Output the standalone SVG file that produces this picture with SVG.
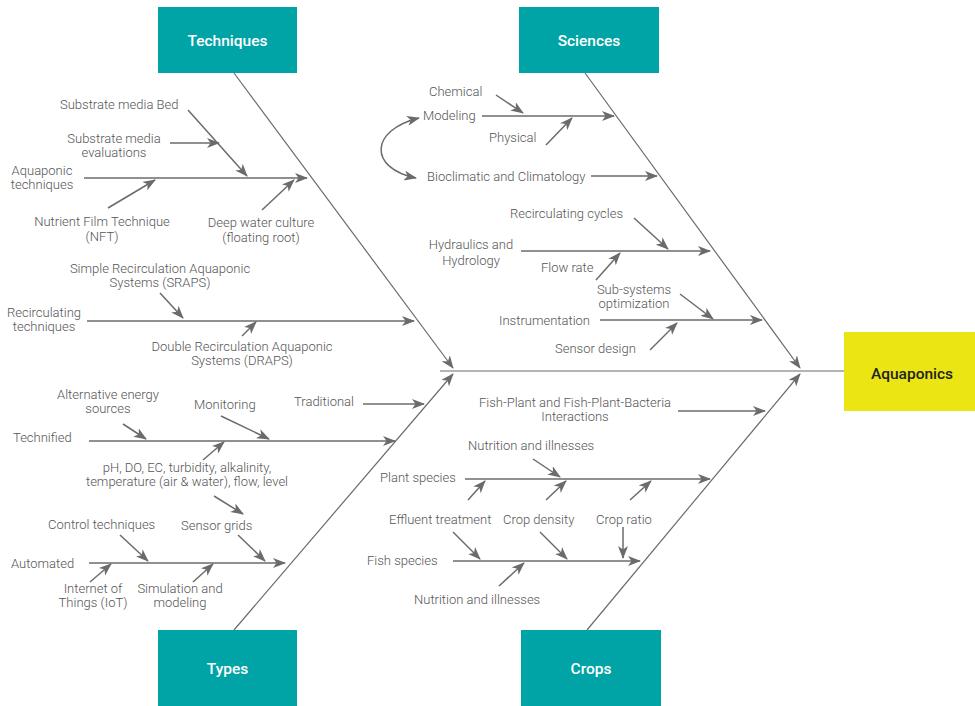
<svg xmlns="http://www.w3.org/2000/svg" width="975" height="706" viewBox="0 0 975 706">
<defs>
<marker id="ah" markerUnits="userSpaceOnUse" markerWidth="14" markerHeight="10" refX="12" refY="5" orient="auto">
<path d="M0,0 L13,5 L0,10 L3.5,5 z" fill="#6b6b6b"/>
</marker>
<marker id="ahs" markerUnits="userSpaceOnUse" markerWidth="14" markerHeight="10" refX="12" refY="5" orient="auto-start-reverse">
<path d="M0,0 L13,5 L0,10 L3.5,5 z" fill="#6b6b6b"/>
</marker>
</defs>
<style>
.t{font-family:Roboto,"Liberation Sans",sans-serif;font-size:13px;font-weight:300;fill:#555}
.m{text-anchor:middle}
.bt{font-family:Roboto,"Liberation Sans",sans-serif;font-size:15.5px;font-weight:500;fill:#fff;text-anchor:middle}
.ln{stroke:#6b6b6b;stroke-width:1.5;fill:none}
.ar{stroke:#6b6b6b;stroke-width:1.5;fill:none;marker-end:url(#ah)}
.dg{stroke:#6b6b6b;stroke-width:1.2;fill:none}
.box{fill:#00a3a6}
</style>
<rect width="975" height="706" fill="#fff"/>

<g id="connectors">
<line class="dg" x1="440" y1="371" x2="844" y2="371"/>
<line class="dg" x1="234" y1="73" x2="453" y2="368" marker-end="url(#ah)"/>
<line class="dg" x1="585" y1="73" x2="800" y2="368" marker-end="url(#ah)"/>
<line class="dg" x1="234" y1="630" x2="453" y2="374" marker-end="url(#ah)"/>
<line class="dg" x1="587" y1="630" x2="800" y2="374" marker-end="url(#ah)"/>

<line class="ar" x1="84" y1="178" x2="307" y2="178"/>
<line class="ar" x1="188" y1="110" x2="247" y2="176"/>
<line class="ar" x1="170" y1="143" x2="219" y2="143"/>
<line class="ar" x1="108" y1="208" x2="155" y2="180"/>
<line class="ar" x1="262" y1="210" x2="294" y2="180"/>
<line class="ar" x1="87" y1="321" x2="414" y2="321"/>
<line class="ar" x1="160" y1="293" x2="183" y2="318"/>
<line class="ar" x1="242" y1="336" x2="256" y2="322"/>

<line class="ar" x1="482" y1="116" x2="614" y2="116"/>
<line class="ar" x1="496" y1="95" x2="523" y2="113"/>
<line class="ar" x1="546" y1="145" x2="572" y2="118"/>
<line class="ar" x1="591" y1="176" x2="657" y2="176"/>
<path class="ln" d="M419,118 C370,130 368,168 416,178" marker-start="url(#ahs)" marker-end="url(#ah)"/>
<line class="ar" x1="521" y1="251" x2="710" y2="251"/>
<line class="ar" x1="634" y1="218" x2="668" y2="249"/>
<line class="ar" x1="596" y1="280" x2="620" y2="253"/>
<line class="ar" x1="600" y1="320" x2="762" y2="320"/>
<line class="ar" x1="680" y1="294" x2="713" y2="319"/>
<line class="ar" x1="650" y1="350" x2="677" y2="323"/>

<line class="ar" x1="89" y1="441" x2="395" y2="441"/>
<line class="ar" x1="123" y1="424" x2="146" y2="439"/>
<line class="ar" x1="221" y1="416" x2="269" y2="439"/>
<line class="ar" x1="203" y1="460" x2="224" y2="442"/>
<line class="ar" x1="214" y1="496" x2="243" y2="514"/>
<line class="ar" x1="363" y1="404" x2="424" y2="404"/>
<line class="ar" x1="89" y1="563" x2="285" y2="563"/>
<line class="ar" x1="120" y1="535" x2="148" y2="561"/>
<line class="ar" x1="238" y1="535" x2="265" y2="561"/>
<line class="ar" x1="90" y1="582" x2="111" y2="564"/>
<line class="ar" x1="193" y1="582" x2="213" y2="564"/>

<line class="ar" x1="678" y1="411" x2="765" y2="411"/>
<line class="ar" x1="465" y1="479" x2="710" y2="479"/>
<line class="ar" x1="533" y1="459" x2="560" y2="477"/>
<line class="ar" x1="468" y1="500" x2="485" y2="481"/>
<line class="ar" x1="546" y1="500" x2="566" y2="481"/>
<line class="ar" x1="630" y1="500" x2="651" y2="481"/>
<line class="ar" x1="453" y1="561" x2="640" y2="561"/>
<line class="ar" x1="453" y1="532" x2="480" y2="559"/>
<line class="ar" x1="540" y1="532" x2="567" y2="559"/>
<line class="ar" x1="623" y1="527" x2="623" y2="558"/>
<line class="ar" x1="499" y1="586" x2="524" y2="563"/>
</g>

<g id="node-techniques"><rect class="box" x="158" y="7" width="139" height="66"/><text class="bt" x="227.5" y="46">Techniques</text></g>
<g id="node-sciences"><rect class="box" x="519" y="7" width="140" height="66"/><text class="bt" x="589" y="46">Sciences</text></g>
<g id="node-types"><rect class="box" x="158" y="630" width="139" height="76"/><text class="bt" x="227.5" y="674">Types</text></g>
<g id="node-crops"><rect class="box" x="521" y="630" width="140" height="76"/><text class="bt" x="591" y="674">Crops</text></g>
<g id="node-aquaponics"><rect x="844" y="332" width="131" height="79" fill="#ebe613"/><text class="bt" x="912" y="379" style="fill:#222">Aquaponics</text></g>

<g id="labels-techniques">
<text class="t" x="60" y="109">Substrate media Bed</text>
<text class="t m" x="114" y="142.5">Substrate media</text>
<text class="t m" x="114" y="156.5">evaluations</text>
<text class="t m" x="42" y="174.5">Aquaponic</text>
<text class="t m" x="42" y="188.5">techniques</text>
<text class="t m" x="102" y="225.5">Nutrient Film Technique</text>
<text class="t m" x="102" y="240.5">(NFT)</text>
<text class="t m" x="261" y="226.5">Deep water culture</text>
<text class="t m" x="261" y="241.5">(floating root)</text>
<text class="t m" x="160" y="272.5">Simple Recirculation Aquaponic</text>
<text class="t m" x="160" y="287">Systems (SRAPS)</text>
<text class="t m" x="44" y="316.5">Recirculating</text>
<text class="t m" x="44" y="330.5">techniques</text>
<text class="t m" x="242" y="350.5">Double Recirculation Aquaponic</text>
<text class="t m" x="242" y="364.5">Systems (DRAPS)</text>
</g>

<g id="labels-sciences">
<text class="t" x="429" y="96">Chemical</text>
<text class="t" x="423" y="120">Modeling</text>
<text class="t" x="489" y="142">Physical</text>
<text class="t" x="427" y="181">Bioclimatic and Climatology</text>
<text class="t" x="510" y="218">Recirculating cycles</text>
<text class="t m" x="471" y="249">Hydraulics and</text>
<text class="t m" x="471" y="265">Hydrology</text>
<text class="t" x="541" y="272">Flow rate</text>
<text class="t m" x="634" y="293.5">Sub-systems</text>
<text class="t m" x="634" y="308">optimization</text>
<text class="t" x="499" y="325">Instrumentation</text>
<text class="t" x="555" y="353">Sensor design</text>
</g>

<g id="labels-types">
<text class="t m" x="108" y="398.5">Alternative energy</text>
<text class="t m" x="108" y="413">sources</text>
<text class="t" x="194" y="409">Monitoring</text>
<text class="t" x="294" y="406">Traditional</text>
<text class="t" x="13" y="442">Technified</text>
<text class="t m" x="187" y="471.5">pH, DO, EC, turbidity, alkalinity,</text>
<text class="t m" x="187" y="486">temperature (air &amp; water), flow, level</text>
<text class="t" x="48" y="529">Control techniques</text>
<text class="t" x="181" y="530">Sensor grids</text>
<text class="t" x="11" y="568">Automated</text>
<text class="t m" x="93" y="592.5">Internet of</text>
<text class="t m" x="93" y="606.5">Things (IoT)</text>
<text class="t m" x="180" y="592.5">Simulation and</text>
<text class="t m" x="180" y="606.5">modeling</text>
</g>

<g id="labels-crops">
<text class="t m" x="575" y="406.5">Fish-Plant and Fish-Plant-Bacteria</text>
<text class="t m" x="575" y="420.5">Interactions</text>
<text class="t" x="468" y="450">Nutrition and illnesses</text>
<text class="t" x="380" y="482">Plant species</text>
<text class="t" x="389" y="524">Effluent treatment</text>
<text class="t" x="503" y="524">Crop density</text>
<text class="t" x="596" y="524">Crop ratio</text>
<text class="t" x="367" y="565">Fish species</text>
<text class="t" x="414" y="604">Nutrition and illnesses</text>
</g>
</svg>
